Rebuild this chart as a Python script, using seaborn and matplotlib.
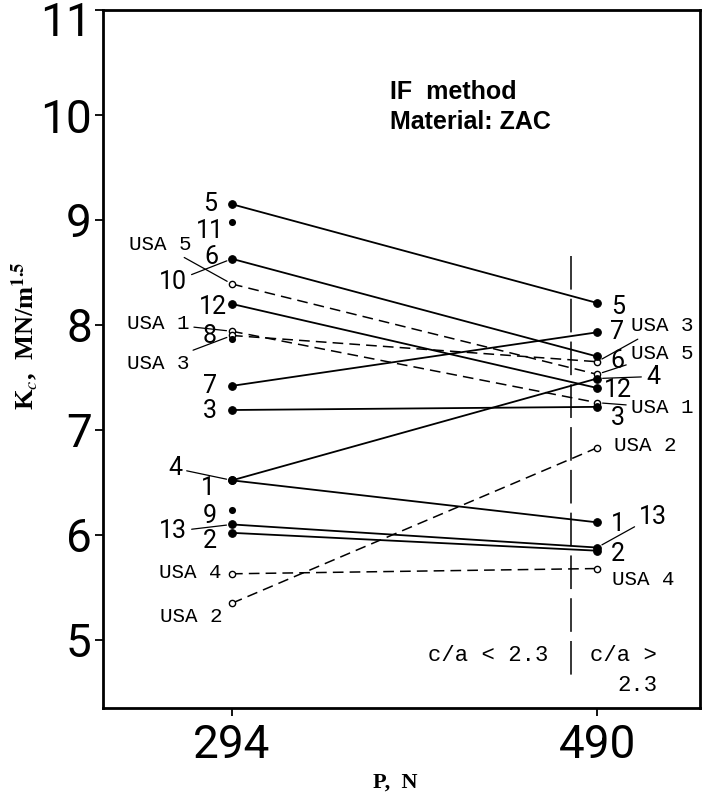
import matplotlib
matplotlib.use("Agg")
import matplotlib.pyplot as plt
import matplotlib.transforms as mtransforms
import seaborn as sns
import pandas as pd

# ---------------- data ----------------
loads = [294, 490]
xtick_labels = ["294", "490"]
ytick_values = [5, 6, 7, 8, 9, 10, 11]

solid_ids = ["5", "6", "12", "7", "3", "4", "1", "13", "2"]
solid_k294 = [9.15, 8.63, 8.20, 7.42, 7.19, 6.52, 6.52, 6.10, 6.02]
solid_k490 = [8.21, 7.70, 7.40, 7.93, 7.22, 7.49, 6.12, 5.88, 5.85]

usa_ids = ["USA 5", "USA 1", "USA 3", "USA 4", "USA 2"]
usa_k294 = [8.39, 7.94, 7.90, 5.63, 5.35]
usa_k490 = [7.53, 7.26, 7.65, 5.68, 6.83]

single_ids = ["11", "10", "8", "9"]
single_k294 = [8.98, 8.63, 7.87, 6.24]

boundary_load = 476
boundary_k = [8.66, 4.64]

# ---------------- style ----------------
sns.set_style("white")
plt.rcParams["font.family"] = ["Roboto", "DejaVu Sans"]
plt.rcParams["mathtext.fontset"] = "stix"
plt.rcParams["text.color"] = "black"
plt.rcParams["axes.labelcolor"] = "black"

fig = plt.figure(figsize=(7.05, 8.02), dpi=100)
ax = fig.add_axes([0.146, 0.117, 0.847, 0.8705])

def long_form(ids, k1, k2):
    rows = []
    for i, a, b in zip(ids, k1, k2):
        rows.append({"id": i, "P": loads[0], "K": a})
        rows.append({"id": i, "P": loads[1], "K": b})
    return pd.DataFrame(rows)

df_solid = long_form(solid_ids, solid_k294, solid_k490)
df_usa = long_form(usa_ids, usa_k294, usa_k490)
df_single = pd.DataFrame({"P": [loads[0]] * len(single_ids), "K": single_k294})

sns.lineplot(data=df_usa, x="P", y="K", units="id", estimator=None, ax=ax,
             color="black", lw=1.1, linestyle=(0, (7, 4)), marker="o",
             markersize=4.5, markerfacecolor="white", markeredgecolor="black",
             markeredgewidth=1.0, zorder=3)
sns.lineplot(data=df_solid, x="P", y="K", units="id", estimator=None, ax=ax,
             color="black", lw=1.3, marker="o", markersize=5.5,
             markerfacecolor="black", markeredgecolor="black", zorder=4)
sns.scatterplot(data=df_single, x="P", y="K", ax=ax, color="black", s=26,
                edgecolor="black", linewidth=0, zorder=4)

# boundary c/a = 2.3
ax.plot([boundary_load, boundary_load], boundary_k, color="black", lw=1.1,
        linestyle=(0, (22, 6)), zorder=2)

ax.set_xlim(224.7, 545.3)
ax.set_ylim(4.35, 11.0)
ax.set_xticks(loads)
ax.set_xticklabels(xtick_labels)
ax.set_yticks(ytick_values)
ax.set_yticklabels([str(v) for v in ytick_values])

for s in ax.spines.values():
    s.set_visible(True)
    s.set_linewidth(2.0)
    s.set_color("black")
ax.tick_params(axis="both", direction="out", length=6, width=1.3, colors="black",
               labelsize=33, bottom=True, left=True)
ax.tick_params(axis="y", pad=2)
ax.tick_params(axis="x", pad=5)

# keep the top tick label inside the figure
top_label = ax.get_yticklabels()[-1]
top_label.set_transform(top_label.get_transform() +
                        mtransforms.ScaledTranslation(0, -8 / 100, fig.dpi_scale_trans))

ax.set_xlabel("P,  N", family="Liberation Serif", fontweight="bold", fontsize=16,
              color="black")
ax.xaxis.set_label_coords(0.49, -0.093)
ax.set_ylabel(r"K$_{\mathit{c}}$,  MN/m$^{\mathbf{1.5}}$", family="Liberation Serif",
              fontweight="bold", fontsize=19, color="black")
ax.yaxis.set_label_coords(-0.104, 0.534)

# ---------------- labels ----------------
num_font = dict(family=["Roboto", "DejaVu Sans"], fontsize=18, color="black")
mono_font = dict(family="Liberation Mono", fontsize=15, color="black")
lead = dict(arrowstyle="-", lw=0.9, color="black", shrinkA=1, shrinkB=4)

labels = [
    # text, load, K, dx(px), dy(px), leader, mono
    ("5", 294, 9.15, -22, 0, False, False),
    ("11", 294, 8.98, -22, -9, False, False),
    ("6", 294, 8.63, -21, 2, False, False),
    ("12", 294, 8.20, -19, -3, False, False),
    ("8", 294, 7.87, -22, 3, False, False),
    ("7", 294, 7.42, -22, 0, False, False),
    ("3", 294, 7.19, -22, -1, False, False),
    ("4", 294, 6.52, -57, 12, True, False),
    ("1", 294, 6.52, -24, -8, False, False),
    ("9", 294, 6.24, -22, -6, False, False),
    ("2", 294, 6.02, -22, -8, False, False),
    ("13", 294, 6.10, -59, -7, True, False),
    ("USA 4", 294, 5.63, -42, 1, False, True),
    ("USA 2", 294, 5.35, -41, -13, False, True),
    ("USA 5", 294, 8.39, -72, 40, True, True),
    ("10", 294, 8.63, -59, -23, True, False),
    ("USA 1", 294, 7.94, -74, 8, True, True),
    ("USA 3", 294, 7.90, -74, -28, True, True),
    ("5", 490, 8.21, 21, -4, False, False),
    ("7", 490, 7.93, 20, 0, False, False),
    ("6", 490, 7.70, 20, -5, False, False),
    ("12", 490, 7.40, 21, -2, False, False),
    ("3", 490, 7.22, 21, -11, False, False),
    ("4", 490, 7.49, 56, 2, True, False),
    ("USA 3", 490, 7.65, 65, 36, True, True),
    ("USA 5", 490, 7.53, 65, 21, True, True),
    ("USA 1", 490, 7.26, 65, -5, True, True),
    ("USA 2", 490, 6.83, 48, 2, False, True),
    ("1", 490, 6.12, 21, -2, False, False),
    ("2", 490, 5.86, 21, -4, False, False),
    ("13", 490, 5.88, 56, 31, True, False),
    ("USA 4", 490, 5.68, 46, -11, False, True),
]
for text, p, k, dx, dy, leader, mono in labels:
    font = mono_font if mono else num_font
    ax.annotate(text, xy=(p, k), xytext=(dx, dy), textcoords="offset pixels",
                ha="center", va="center", arrowprops=lead if leader else None,
                zorder=5, **font)

ax.text(0.481, 0.8825, "IF  method", transform=ax.transAxes, fontsize=18,
        fontweight="bold", family="Liberation Sans", ha="left", va="center",
        color="black")
ax.text(0.481, 0.8395, "Material: ZAC", transform=ax.transAxes, fontsize=18,
        fontweight="bold", family="Liberation Sans", ha="left", va="center",
        color="black")

ca_font = dict(family="Liberation Mono", fontsize=16, color="black")
ax.text(0.646, 0.075, "c/a < 2.3", transform=ax.transAxes, ha="center",
        va="center", **ca_font)
ax.text(0.872, 0.075, "c/a >", transform=ax.transAxes, ha="center",
        va="center", **ca_font)
ax.text(0.895, 0.032, "2.3", transform=ax.transAxes, ha="center",
        va="center", **ca_font)

fig.savefig("out.png", dpi=100)
